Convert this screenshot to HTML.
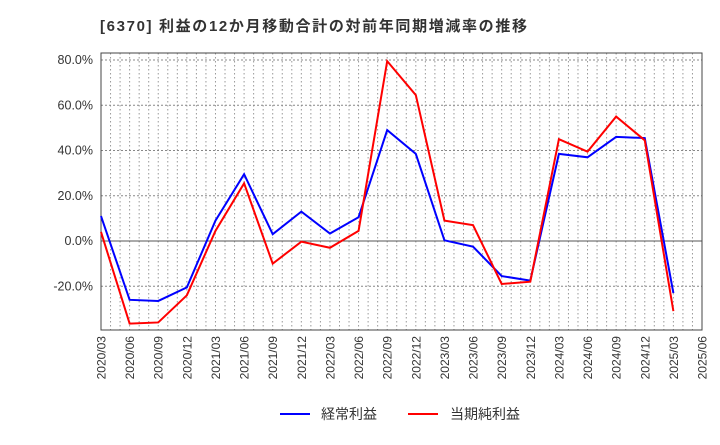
<!DOCTYPE html>
<html><head><meta charset="utf-8"><style>
body{margin:0;background:#fff;font-family:"Liberation Sans","Noto Sans CJK JP",sans-serif}
</style></head><body>
<svg id="c" width="720" height="440" xmlns="http://www.w3.org/2000/svg">
<text x="100" y="31" font-size="15" font-weight="bold" fill="#333" textLength="427" lengthAdjust="spacing" font-family="Liberation Sans,Noto Sans CJK JP,sans-serif">[6370]  利益の12か月移動合計の対前年同期増減率の推移</text>
<g id="grid"></g><g id="axes"></g><g id="series"></g>
<g font-size="14" font-family="Liberation Sans,Noto Sans CJK JP,sans-serif">
<line x1="280" y1="414" x2="310" y2="414" stroke="#0000ff" stroke-width="2"/>
<text x="321" y="419" fill="#333">経常利益</text>
<line x1="408" y1="414" x2="438" y2="414" stroke="#ff0000" stroke-width="2"/>
<text x="450" y="419" fill="#333">当期純利益</text>
</g>
</svg>
<script>
const categories=["2020/03","2020/06","2020/09","2020/12","2021/03","2021/06","2021/09","2021/12","2022/03","2022/06","2022/09","2022/12","2023/03","2023/06","2023/09","2023/12","2024/03","2024/06","2024/09","2024/12","2025/03","2025/06"];
const ordinaryProfit=[11,-26,-26.5,-20.5,9,29.5,3,13,3.3,10.5,49,38.5,0.3,-2.5,-15.5,-17.5,38.5,37,46,45.5,-23];
const netProfit=[4,-36.5,-36,-24,4.5,25.5,-10,-0.3,-3,4.5,79.5,64.5,9,7,-19,-18,45,39.5,55,44.5,-31];
const yTicks=[-20,0,20,40,60,80];
const X0=101,X1=702,Y0=53,Y1=330;
const xs=i=>X0+(X1-X0)*i/(categories.length-1);
const ys=v=>241-v*(181/80);
const NS="http://www.w3.org/2000/svg";
function mk(p,t,a){const e=document.createElementNS(NS,t);for(const k in a)e.setAttribute(k,a[k]);p.appendChild(e);return e;}
const grid=document.getElementById('grid'),axes=document.getElementById('axes'),ser=document.getElementById('series');
for(let m=0;m<=63;m++){const x=X0+(X1-X0)*m/63;
 const l=mk(grid,'line',{x1:x,y1:Y0,x2:x,y2:Y1,stroke:'#999','stroke-dasharray':'1.5,2.5','stroke-width':1});
 
 }
yTicks.forEach(v=>{const y=ys(v);
 const l=mk(grid,'line',{x1:X0,y1:y,x2:X1,y2:y,stroke:v===0?'#555':'#888','stroke-dasharray':v===0?'':'2,2','stroke-width':1});
 
 
 const t=mk(axes,'text',{x:X0-8,y:y+4,'text-anchor':'end','font-size':12.5,fill:'#333'});
 t.textContent=v.toFixed(1)+'%';
 
 });
const fr=mk(axes,'rect',{x:X0,y:Y0,width:X1-X0,height:Y1-Y0,fill:'none',stroke:'#444','stroke-width':1});


categories.forEach((c,i)=>{const x=xs(i);
 const t=mk(axes,'text',{x:x+4.5,y:Y1+6,transform:`rotate(-90 ${x+4.5} ${Y1+6})`,'text-anchor':'end','font-size':12,fill:'#333'});
 t.textContent=c;
 
 });
function line(d,col,name){const p=mk(ser,'polyline',{points:d.map((v,i)=>xs(i)+','+ys(v)).join(' '),fill:'none',stroke:col,'stroke-width':2});
 
 }
line(ordinaryProfit,'#0000ff','ordinary-profit-line');
line(netProfit,'#ff0000','net-profit-line');
</script>
</body></html>
